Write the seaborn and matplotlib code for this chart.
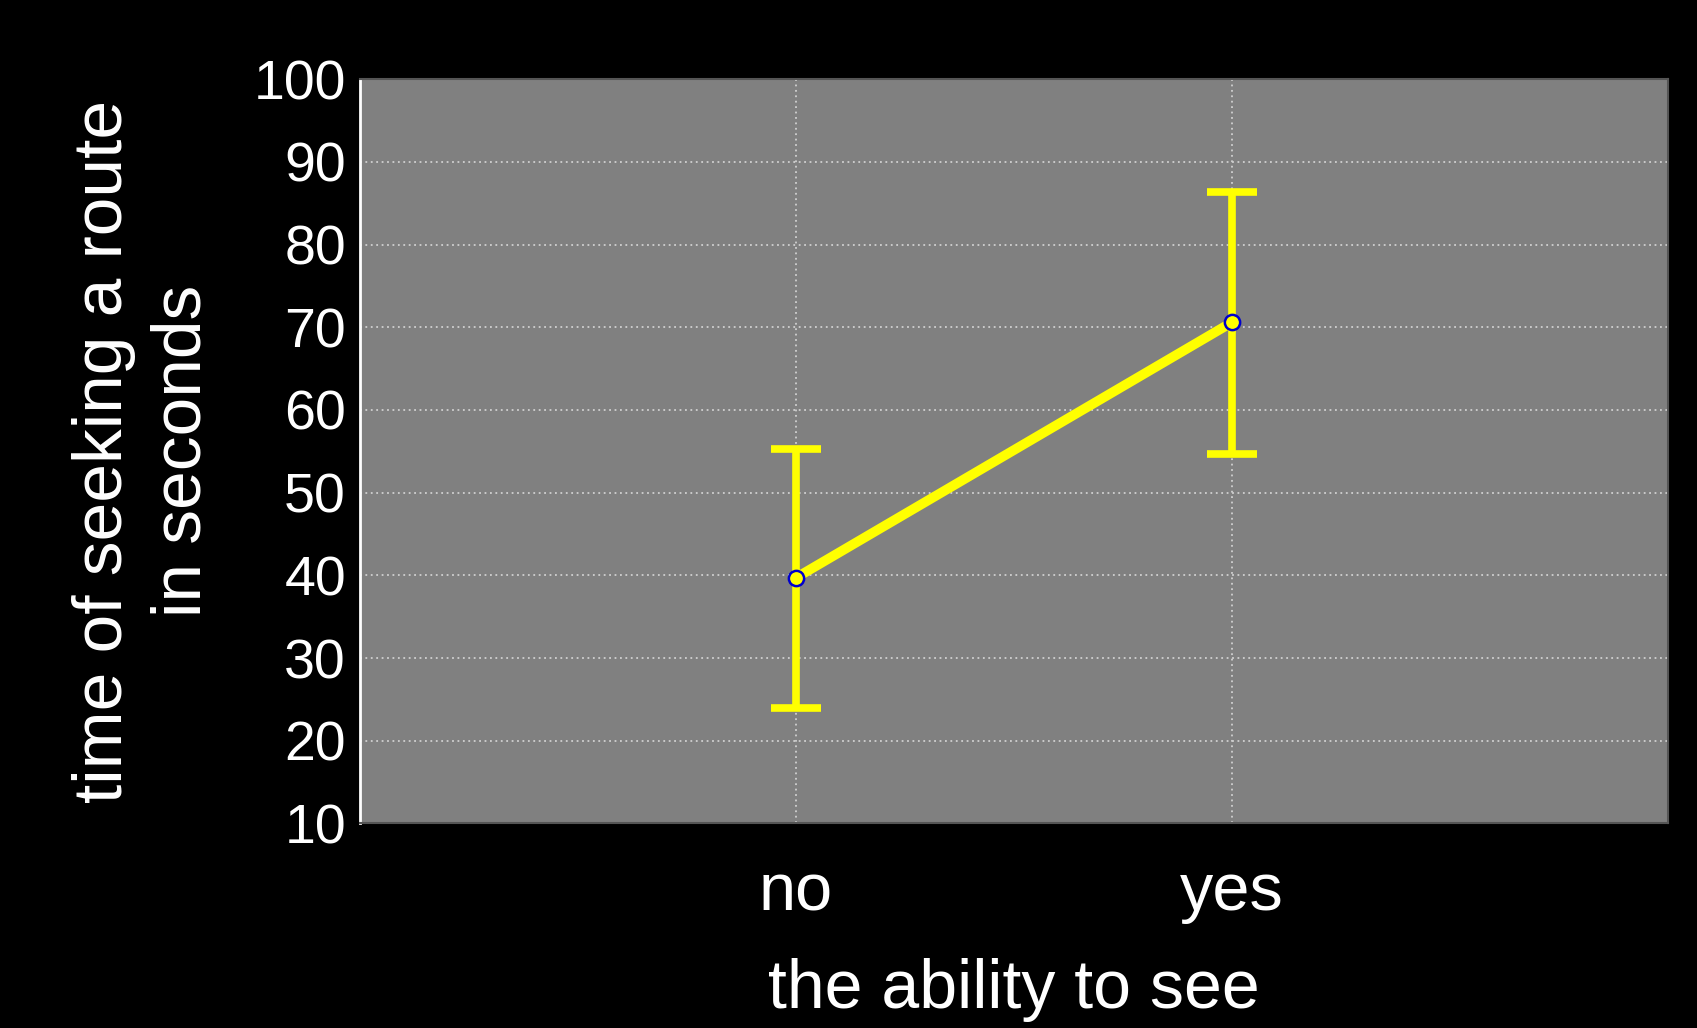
import numpy as np
import pandas as pd
import matplotlib
matplotlib.use("Agg")
import matplotlib.pyplot as plt
import seaborn as sns

# -------- DATA --------
groups = ['no', 'yes']
means = [39.7, 70.6]
lower = [23.9, 54.7]
upper = [55.3, 86.3]
yticks = [10, 20, 30, 40, 50, 60, 70, 80, 90, 100]

df = pd.DataFrame({'ability': groups, 'time': means})

# -------- STYLE --------
sns.set_style('dark')
plt.rcParams['font.family'] = ['Liberation Sans', 'DejaVu Sans']

fig = plt.figure(figsize=(16.97, 10.28), dpi=100, facecolor='black')
ax = fig.add_axes([0.212, 0.199, 0.771, 0.724])
ax.set_facecolor('#808080')

sns.pointplot(data=df, x='ability', y='time', errorbar=None, color='#ffff00',
              linewidth=7, markers='o', markersize=11, ax=ax)
for coll in ax.collections:
    coll.set_edgecolor('#0000cc')
    coll.set_facecolor('#ffff00')
    coll.set_linewidth(1.8)
    coll.set_zorder(4)
for ln in ax.lines:
    ln.set_linewidth(7)
    ln.set_markeredgecolor('#0000cc')
    ln.set_markerfacecolor('#ffff00')
    ln.set_markeredgewidth(1.8)
    ln.set_zorder(3)

# error bars (drawn under the line)
pos = np.arange(len(groups))
yerr = [np.array(means) - np.array(lower), np.array(upper) - np.array(means)]
ax.errorbar(pos, means, yerr=yerr, fmt='none', ecolor='#ffff00',
            elinewidth=5.5, capsize=18, capthick=5.5, zorder=2)

ax.set_xlim(-1, 2)
ax.set_ylim(10, 100)
ax.set_yticks(yticks)

ax.grid(True, color='#d0d0d0', linestyle=(0, (1, 2)), linewidth=1.3, zorder=0)
ax.set_axisbelow(True)

for side in ['top', 'right', 'bottom']:
    ax.spines[side].set_color('#555555')
    ax.spines[side].set_linewidth(1.5)
ax.spines['left'].set_color('white')
ax.spines['left'].set_linewidth(2)

ax.tick_params(axis='y', colors='white', labelsize=40, direction='in',
               length=8, width=2, pad=10)
ax.tick_params(axis='x', colors='white', labelsize=48, length=0, pad=28)

ax.set_xlabel('the ability to see', color='white', fontsize=49, labelpad=24)
ax.set_ylabel('time of seeking a route\nin seconds', color='white',
              fontsize=50, labelpad=28, linespacing=1.3)

fig.savefig('out.png', dpi=100, facecolor='black')
